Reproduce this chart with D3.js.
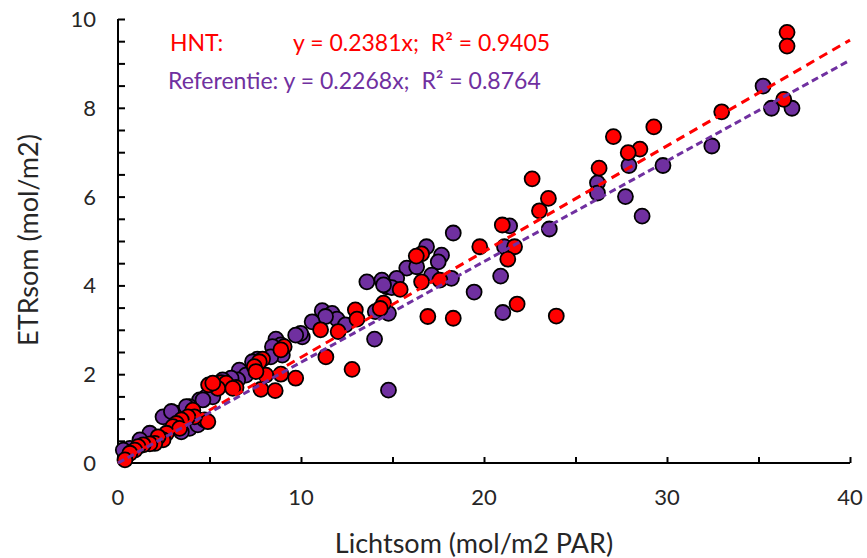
<!DOCTYPE html>
<html>
<head>
<meta charset="utf-8">
<script src="https://cdn.jsdelivr.net/npm/d3@7"></script>
<style>
  html, body { margin: 0; padding: 0; background: #fff; }
  svg { display: block; font-family: Lato, "Open Sans", sans-serif; }
</style>
</head>
<body>
<svg id="chart" width="867" height="558"></svg>
<script>
// ---- data ----
const referentieX = [35.25,35.71,36.83,32.45,29.78,27.92,27.73,26.2,26.2,28.64,23.57,21.4,21.12,20.91,21.03,18.32,16.86,17.68,17.5,15.78,16.32,15.23,14.42,13.6,14.69,14.96,18.22,19.46,17.14,14.78,14.02,11.16,11.7,11.97,11.34,10.61,10.07,12.43,14.06,9.98,9.71,8.63,8.9,8.44,8.98,8.35,7.62,7.35,6.63,6.99,6.54,6.18,5.72,5.27,4.82,4.46,14.78,14.51,5.18,4.64,3.91,3.19,2.46,2.92,3.73,3.91,4.36,3.46,1.74,1.2,0.65,0.29];
const referentieY = [8.49,7.99,7.99,7.14,6.70,6.70,6.00,6.31,6.08,5.56,5.27,5.34,4.87,4.21,3.39,5.18,4.87,4.68,4.53,4.39,4.42,4.16,4.12,4.08,3.97,3.95,4.16,3.85,4.23,3.37,2.79,3.43,3.37,3.24,3.30,3.18,2.84,3.11,3.41,2.92,2.88,2.79,2.66,2.62,2.43,2.39,2.34,2.28,2.09,1.98,1.87,1.91,1.87,1.68,1.49,1.42,1.64,4.01,1.49,1.42,1.27,1.12,1.04,1.16,1.27,0.78,0.86,0.70,0.67,0.52,0.33,0.29];
const hntX = [36.56,36.56,32.99,36.38,29.28,27.07,28.52,27.88,26.29,22.63,23.52,23.03,21.0,21.67,21.3,19.77,21.81,23.95,16.59,16.3,16.59,17.59,15.42,14.51,14.33,12.97,13.06,16.93,18.32,11.07,12.03,11.36,12.79,9.08,8.9,7.9,7.72,7.45,8.08,8.9,9.71,7.54,7.81,8.59,5.64,5.91,6.45,6.27,5.45,4.95,5.18,4.73,4.91,4.09,4.18,3.82,3.46,3.19,3.0,3.37,2.65,2.46,2.19,2.01,1.74,1.38,1.1,0.92,0.65,0.38];
const hntY = [9.70,9.39,7.91,8.19,7.57,7.35,7.07,6.99,6.64,6.40,5.96,5.68,5.36,4.87,4.59,4.87,3.58,3.31,4.71,4.66,4.08,4.12,3.91,3.60,3.48,3.45,3.24,3.30,3.26,3.00,2.96,2.39,2.11,2.62,2.55,2.34,2.28,2.17,1.98,2.00,1.91,2.06,1.66,1.63,1.81,1.80,1.70,1.68,1.68,1.76,1.80,0.97,0.93,1.19,1.04,1.04,0.97,0.89,0.82,0.78,0.67,0.52,0.59,0.44,0.43,0.41,0.37,0.29,0.22,0.07];
const slopes = { hnt: 0.2381, ref: 0.2268 };
const xTickLabels = [0, 10, 20, 30, 40];
const yTickLabels = [0, 2, 4, 6, 8, 10];
const legendLines = [
  { name: "HNT:", eq: "y = 0.2381x;\u00A0 R² = 0.9405" },
  { name: "Referentie:", eq: "y = 0.2268x;\u00A0 R² = 0.8764" }
];

// ---- layout ----
const RED = "#FF0000", PURPLE = "#7030A0", TXT = "#262626";
const svg = d3.select("#chart");
const x = d3.scaleLinear().domain([0, 40]).range([118, 850]);
const y = d3.scaleLinear().domain([0, 10]).range([463, 19]);

// axes (ticks inside)
const xAxis = d3.axisBottom(x).tickValues(d3.range(0, 40.01, 5)).tickSize(-6).tickFormat("");
svg.append("g").attr("transform", "translate(0,463)").call(xAxis)
  .call(g => g.selectAll("path,line").attr("stroke", "#000").attr("stroke-width", 2))
  .call(g => g.select(".domain").attr("d", "M118,0H850"));
const yAxis = d3.axisLeft(y).tickValues(d3.range(0, 10.01, 0.5)).tickSize(-7).tickFormat("");
svg.append("g").attr("transform", "translate(118,0)").call(yAxis)
  .call(g => g.selectAll("path,line").attr("stroke", "#000").attr("stroke-width", 2))
  .call(g => g.select(".domain").attr("d", "M0,19V463"));

// tick labels
svg.append("g").selectAll("text").data(xTickLabels).join("text")
  .attr("x", d => x(d)).attr("y", 505).attr("text-anchor", "middle")
  .attr("font-size", 22).attr("fill", TXT).text(d => d);
svg.append("g").selectAll("text").data(yTickLabels).join("text")
  .attr("x", 96).attr("y", d => y(d) + 8).attr("text-anchor", "end")
  .attr("font-size", 22).attr("fill", TXT).text(d => d);

// axis titles
svg.append("text").attr("x", 474).attr("y", 553).attr("text-anchor", "middle")
  .attr("font-size", 27).attr("fill", TXT).text("Lichtsom (mol/m2 PAR)");
svg.append("text").attr("transform", "translate(38,240) rotate(-90)").attr("text-anchor", "middle")
  .attr("font-size", 27).attr("fill", TXT).text("ETRsom (mol/m2)");

// points
const refPts = referentieX.map((v, i) => [v, referentieY[i]]);
const hntPts = hntX.map((v, i) => [v, hntY[i]]);
svg.append("g").selectAll("circle").data(refPts).join("circle")
  .attr("cx", d => x(d[0])).attr("cy", d => y(d[1])).attr("r", 7.5)
  .attr("fill", PURPLE).attr("stroke", "#000").attr("stroke-width", 1.8);
svg.append("g").selectAll("circle").data(hntPts).join("circle")
  .attr("cx", d => x(d[0])).attr("cy", d => y(d[1])).attr("r", 7.5)
  .attr("fill", RED).attr("stroke", "#000").attr("stroke-width", 1.8);

// trend lines
const line = d3.line().x(d => x(d[0])).y(d => y(d[1]));
svg.append("path").datum([[0, 0], [40, 40 * slopes.hnt]]).attr("d", line)
  .attr("stroke", RED).attr("stroke-width", 3).attr("fill", "none").attr("stroke-dasharray", "9,6");
svg.append("path").datum([[0, 0], [40, 40 * slopes.ref]]).attr("d", line)
  .attr("stroke", PURPLE).attr("stroke-width", 3).attr("fill", "none").attr("stroke-dasharray", "7,4");

// legend text
const lg = svg.append("g").attr("font-size", 23);
lg.append("text").attr("x", 170).attr("y", 51).attr("fill", RED).text(legendLines[0].name);
lg.append("text").attr("x", 293).attr("y", 51).attr("fill", RED).text(legendLines[0].eq);
lg.append("text").attr("x", 168).attr("y", 89).attr("fill", PURPLE).text(legendLines[1].name + " " + legendLines[1].eq);
</script>
</body>
</html>
